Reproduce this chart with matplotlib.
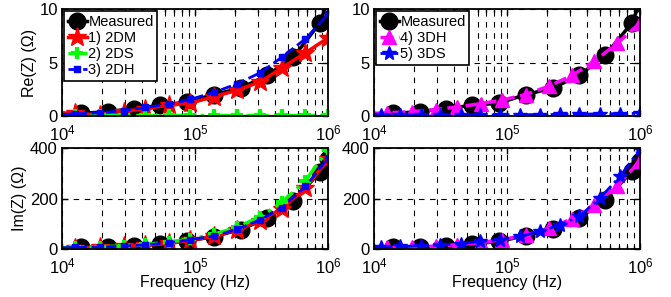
import matplotlib
matplotlib.use("Agg")
import matplotlib.pyplot as plt
from matplotlib.ticker import LogLocator, FixedLocator, NullFormatter

plt.rcParams["font.family"] = ["Liberation Sans", "DejaVu Sans"]
plt.rcParams["mathtext.default"] = "regular"
plt.rcParams["font.size"] = 11

# measured frequencies (Hz)
fMeas = [1.38e4, 2.2e4, 3.5e4, 5.5e4, 8.7e4, 1.38e5, 2.2e5, 3.5e5, 5.5e5, 8.7e5, 1.0e6]
# model frequencies (Hz)
fMod = [1.0e4, 1.26e4, 1.94e4, 2.91e4, 4.24e4, 6.34e4, 9.2e4, 1.38e5, 2.07e5, 3.1e5, 4.5e5, 6.76e5, 1.0e6]
f3DS = [1.0e4, 1.12e4, 1.58e4, 2.24e4, 3.16e4, 4.47e4, 6.3e4, 8.9e4, 1.26e5, 1.78e5, 2.5e5, 3.5e5, 5.0e5, 7.1e5, 1.0e6]

# real part (Ohm)
reMeasL = [0.25, 0.4, 0.7, 1.0, 1.3, 2.0, 2.6, 3.8, 5.5, 8.7, 10.8]
reMeasR = [0.25, 0.4, 0.7, 1.0, 1.2, 2.0, 2.6, 3.8, 5.7, 8.7, 10.6]
re2DM = [0.3, 0.25, 0.1, 0.4, 0.7, 1.0, 1.2, 1.8, 2.4, 3.2, 4.5, 5.9, 7.3]
re2DS = [0.05, 0.05, 0.05, 0.05, 0.05, 0.05, 0.05, 0.05, 0.05, 0.05, 0.05, 0.05, 0.05]
re2DH = [0.15, 0.2, 0.3, 0.5, 0.8, 1.1, 1.55, 2.2, 3.0, 4.05, 5.5, 7.2, 9.5]
re3DH = [0.25, 0.3, 0.4, 0.6, 0.85, 1.15, 1.5, 2.0, 2.8, 3.8, 5.1, 6.8, 8.7]
re3DS = [0.1, 0.1, 0.1, 0.1, 0.1, 0.1, 0.1, 0.12, 0.12, 0.14, 0.15, 0.17, 0.2, 0.22, 0.25]

# imaginary part (Ohm)
imMeasL = [6, 9, 13, 20, 31, 49, 77, 122, 190, 305, 355]
imMeasR = [8, 8, 11, 20, 30, 53, 79, 123, 196, 308, 350]
im2DM = [4, 5, 7, 10, 15, 22, 34, 50, 76, 112, 160, 240, 355]
im2DS = [5, 6, 9, 12, 18, 27, 40, 58, 86, 128, 185, 270, 395]
im2DH = [5, 6, 8, 11, 17, 24, 37, 52, 78, 116, 163, 248, 360]
im3DH = [5, 6, 8, 11, 17, 25, 37, 55, 82, 120, 175, 250, 350]
im3DS = [7, 8, 10, 13, 17, 21, 30, 37, 50, 70, 96, 129, 202, 288, 396]

fig = plt.figure(figsize=(6.71, 2.97), dpi=100)
axTL = fig.add_axes([0.0924, 0.6094, 0.3964, 0.3603])
axTR = fig.add_axes([0.5574, 0.6094, 0.3964, 0.3603])
axBL = fig.add_axes([0.0924, 0.1616, 0.3964, 0.3400])
axBR = fig.add_axes([0.5574, 0.1616, 0.3964, 0.3400])

meas = dict(color="black", lw=2.5, marker="o", ms=12, label="Measured")
s2DM = dict(color="red", lw=2.5, ls="-", marker="*", ms=14, markevery=slice(1, None), label="1) 2DM")
s2DS = dict(color="#00ff00", lw=2.5, ls="-.", marker="+", ms=9, mew=3, markevery=slice(1, None), label="2) 2DS")
s2DH = dict(color="blue", lw=2, ls="--", marker="s", ms=4.5, markevery=slice(1, None), label="3) 2DH")
s3DH = dict(color="magenta", lw=2.5, ls="--", marker="^", ms=10, markevery=slice(1, None), label="4) 3DH")
s3DS = dict(color="blue", lw=2, ls="-.", marker="*", ms=10, markevery=slice(1, None), label="5) 3DS")

axTL.plot(fMeas, reMeasL, **meas)
axTL.plot(fMod, re2DM, **s2DM)
axTL.plot(fMod, re2DS, **s2DS)
axTL.plot(fMod, re2DH, **s2DH)

axTR.plot(fMeas, reMeasR, **meas)
axTR.plot(fMod, re3DH, **s3DH)
axTR.plot(f3DS, re3DS, **s3DS)

axBL.plot(fMeas, imMeasL, **meas)
axBL.plot(fMod, im2DM, **s2DM)
axBL.plot(fMod, im2DS, **s2DS)
axBL.plot(fMod, im2DH, **s2DH)

axBR.plot(fMeas, imMeasR, **meas)
axBR.plot(fMod, im3DH, **s3DH)
axBR.plot(f3DS, im3DS, **s3DS)

# Format axes
for ax in [axTL, axTR, axBL, axBR]:
  ax.set_xscale("log")
  ax.set_xlim(1e4, 1e6)
  ax.xaxis.set_major_locator(LogLocator(base=10, numticks=5))
  ax.xaxis.set_minor_locator(LogLocator(base=10, subs=range(2, 10), numticks=10))
  ax.xaxis.set_minor_formatter(NullFormatter())
  ax.tick_params(which="both", direction="in", top=True, right=True, width=1)
  ax.tick_params(which="major", length=4, labelsize=12)
  ax.tick_params(axis="x", which="major", pad=5.5)
  ax.tick_params(axis="y", which="major", pad=3)
  ax.tick_params(which="minor", length=2.5)
  ax.grid(True, which="major", axis="both", color="black", ls=(0, (5, 5)), lw=0.8)
  ax.grid(True, which="minor", axis="x", color="black", ls=(0, (5, 5)), lw=0.8)
  for sp in ax.spines.values():
    sp.set_linewidth(1.3)

for ax in [axTL, axTR]:
  ax.set_ylim(0, 10)
  ax.yaxis.set_major_locator(FixedLocator([0, 5, 10]))

for ax in [axBL, axBR]:
  ax.set_ylim(0, 400)
  ax.yaxis.set_major_locator(FixedLocator([0, 200, 400]))
  ax.set_xlabel("Frequency (Hz)", fontsize=11.5, labelpad=-1)

axTL.set_ylabel("Re(Z) (Ω)", fontsize=11.5, labelpad=2)
axBL.set_ylabel("Im(Z) (Ω)", fontsize=11.5, labelpad=2)

for ax in [axTL, axTR]:
  leg = ax.legend(loc="upper left", fontsize=10.5, handlelength=1.3, handletextpad=0.1,
                  borderpad=0.25, labelspacing=0.15, borderaxespad=0.15,
                  fancybox=False, framealpha=1, edgecolor="black")
  leg.get_frame().set_linewidth(1.2)

fig.savefig("out.png", dpi=100)
